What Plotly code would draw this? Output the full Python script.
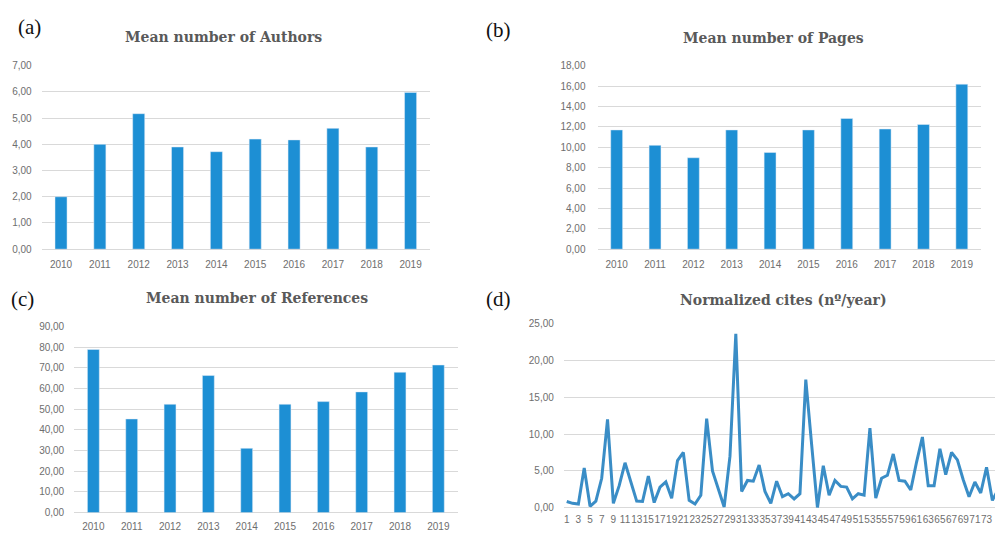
import plotly.graph_objects as go

years = ["2010", "2011", "2012", "2013", "2014", "2015", "2016", "2017", "2018", "2019"]
authors = [2.00, 4.00, 5.17, 3.90, 3.72, 4.20, 4.17, 4.61, 3.90, 5.98]
pages = [11.70, 10.19, 8.97, 11.70, 9.49, 11.70, 12.82, 11.79, 12.24, 16.19]
references = [78.9, 45.3, 52.4, 66.3, 31.1, 52.4, 53.7, 58.4, 67.9, 71.4]

cites = [0.85, 0.6, 0.5, 5.4, 0.2, 0.9, 4.0, 12.0, 0.6, 3.0,
         6.1, 3.5, 0.9, 0.85, 4.3, 0.7, 2.8, 3.5, 1.3, 6.4,
         7.5, 1.0, 0.5, 1.7, 12.1, 5.0, 2.5, 0.1, 7.0, 23.6,
         2.2, 3.7, 3.6, 5.8, 2.2, 0.6, 3.6, 1.5, 1.9, 1.2,
         1.9, 17.4, 8.6, 0.0, 5.7, 1.7, 3.7, 2.9, 2.8, 1.2,
         1.9, 1.7, 10.8, 1.3, 4.0, 4.4, 7.3, 3.7, 3.6, 2.4,
         6.2, 9.6, 3.0, 3.0, 8.0, 4.5, 7.5, 6.5, 3.8, 1.5,
         3.5, 2.0, 5.5, 1.0, 2.5]
cite_index = list(range(1, len(cites) + 1))
cite_ticks = list(range(1, len(cites) + 1, 2))

titles = ["Mean number of Authors", "Mean number of Pages",
          "Mean number of References", "Normalized cites (nº/year)"]
panel_labels = ["(a)", "(b)", "(c)", "(d)"]

W, H = 995, 533
BAR = "#1D8FD4"
LINE = "#3A8DC6"
GRID = "#D9D9D9"
TICKFONT = dict(family="Liberation Sans", size=10, color="#6E6E6E")


def xd(a, b):
    return [a / W, b / W]


def yd(top, bottom):
    return [1 - bottom / H, 1 - top / H]


fig = go.Figure()
fig.add_trace(go.Bar(x=years, y=authors, marker_color=BAR, xaxis="x", yaxis="y"))
fig.add_trace(go.Bar(x=years, y=pages, marker_color=BAR, xaxis="x2", yaxis="y2"))
fig.add_trace(go.Bar(x=years, y=references, marker_color=BAR, xaxis="x3", yaxis="y3"))
fig.add_trace(go.Scatter(x=cite_index, y=cites, mode="lines",
                         line=dict(color=LINE, width=3), xaxis="x4", yaxis="y4"))

common_x = dict(showgrid=False, zeroline=False, showline=False, ticks="",
                tickfont=TICKFONT, tickangle=0)
common_y = dict(showgrid=True, gridcolor=GRID, gridwidth=1, zeroline=True,
                zerolinecolor=GRID, zerolinewidth=1, showline=False, ticks="",
                tickfont=TICKFONT, tickformat=".2f")

fig.update_layout(
    width=W, height=H, margin=dict(l=0, r=0, t=0, b=0),
    paper_bgcolor="white", plot_bgcolor="white", showlegend=False,
    separators=", ", bargap=0.69,
    xaxis=dict(domain=xd(41.6, 430), anchor="y", ticklabelstandoff=8, **common_x),
    yaxis=dict(domain=yd(61, 248.3), anchor="x", range=[0, 7], dtick=1,
               ticklabelstandoff=9, **common_y),
    xaxis2=dict(domain=xd(597.5, 981), anchor="y2", ticklabelstandoff=8, **common_x),
    yaxis2=dict(domain=yd(61, 248.3), anchor="x2", range=[0, 18], dtick=2,
                ticklabelstandoff=11, **common_y),
    xaxis3=dict(domain=xd(74.2, 457.5), anchor="y3", ticklabelstandoff=6, **common_x),
    yaxis3=dict(domain=yd(327.3, 517.3), anchor="x3", range=[0, 90], dtick=10,
                ticklabelstandoff=9, **common_y),
    xaxis4=dict(domain=xd(563.8, 995), anchor="y4", range=[0.5, 74.45],
                tickmode="array", tickvals=cite_ticks,
                ticktext=[str(t) for t in cite_ticks], ticklabelstandoff=4,
                **common_x),
    yaxis4=dict(domain=yd(324.3, 512.3), anchor="x4", range=[0, 25], dtick=5,
                ticklabelstandoff=9, **common_y),
)

title_font = dict(family="DejaVu Serif", size=14, color="#595959")
title_pos = [(223, 32), (773, 33), (257, 298), (783, 300)]
for t, (px, py) in zip(titles, title_pos):
    fig.add_annotation(text="<b>" + t + "</b>", x=px / W, y=1 - py / H,
                       xref="paper", yref="paper", showarrow=False,
                       xanchor="center", yanchor="middle", font=title_font)

label_font = dict(family="Liberation Serif", size=21, color="#111111")
label_pos = [(29, 21), (498, 25), (22, 299), (498, 299)]
for t, (px, py) in zip(panel_labels, label_pos):
    fig.add_annotation(text=t, x=px / W, y=1 - py / H, xref="paper", yref="paper",
                       showarrow=False, xanchor="center", yanchor="middle",
                       font=label_font)

fig.write_html("out.html", config={"displayModeBar": False},
               post_script="document.body.style.margin='0';"
                           "document.body.style.overflow='hidden';")
